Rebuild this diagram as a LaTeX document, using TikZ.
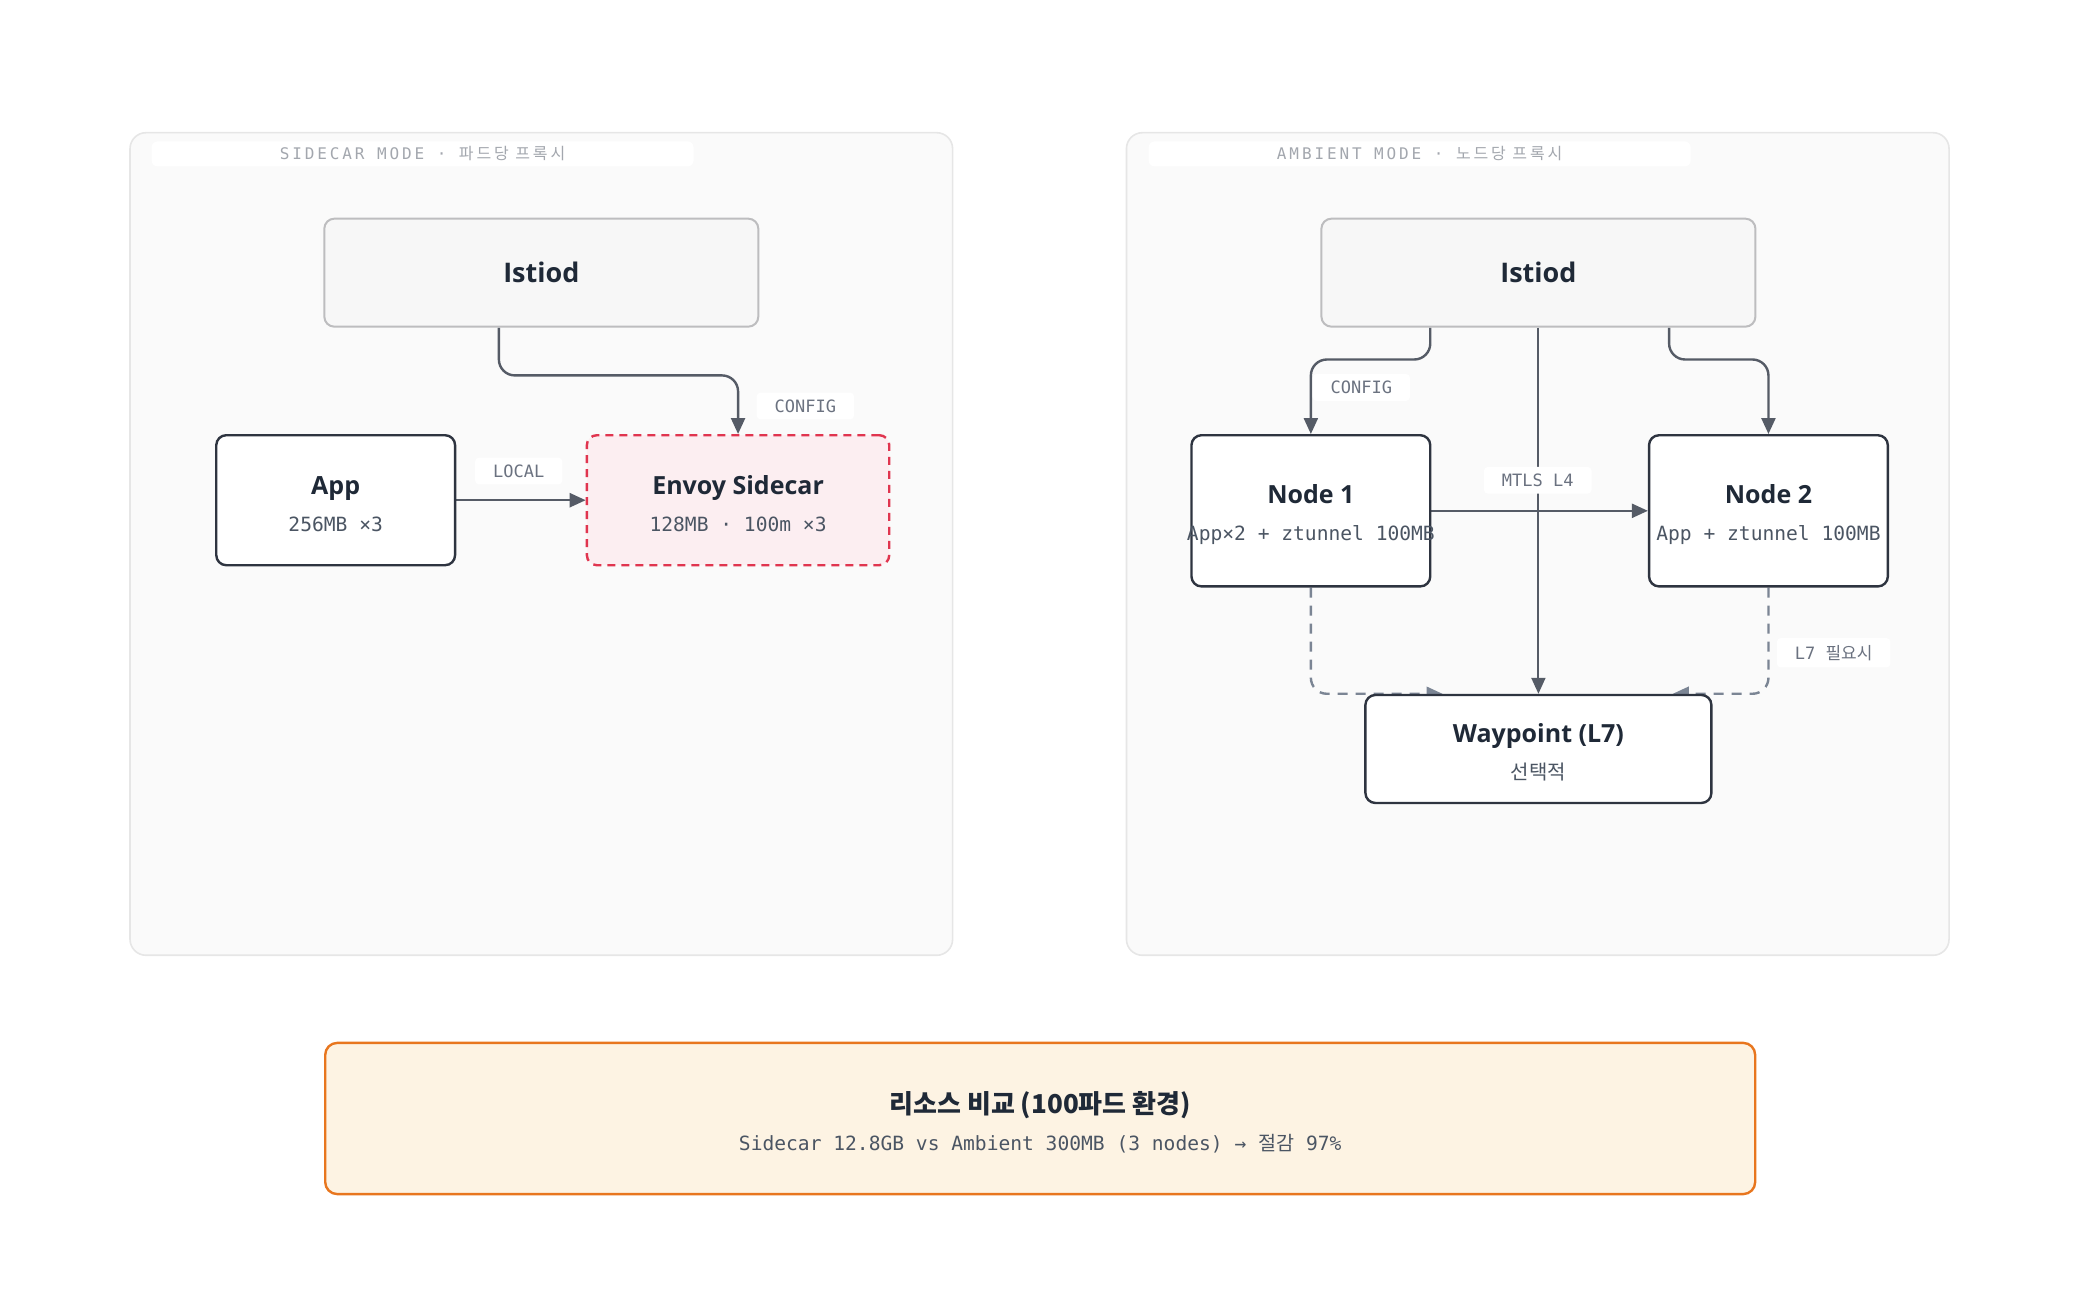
\documentclass[tikz,border=0pt]{standalone}
\usepackage{fontspec}
\setmainfont{Open Sans}
\newfontfamily\kr{Noto Sans CJK KR}
\newfontfamily\mono{DejaVu Sans Mono}
\newfontfamily\trackmono[LetterSpace=18]{DejaVu Sans Mono}
\newfontfamily\trackkr[LetterSpace=18]{Noto Sans CJK KR}
\usetikzlibrary{arrows.meta, calc, positioning}

\definecolor{ink}{HTML}{1F2937}
\definecolor{subgray}{HTML}{4B5563}
\definecolor{edgegray}{HTML}{555B66}
\definecolor{dashgray}{HTML}{7B8594}
\definecolor{muted}{HTML}{6B7280}
\definecolor{faint}{HTML}{A3A7AE}
\definecolor{panelbg}{HTML}{FAFAFA}
\definecolor{panelline}{HTML}{E6E6E6}
\definecolor{istiodbg}{HTML}{F7F7F7}
\definecolor{istiodline}{HTML}{BDBDBF}
\definecolor{boxline}{HTML}{2E3440}
\definecolor{envoybg}{HTML}{FCEEF1}
\definecolor{envoyline}{HTML}{E0354F}
\definecolor{sumbg}{HTML}{FDF3E3}
\definecolor{sumline}{HTML}{E8761E}

\pgfdeclarelayer{bg}
\pgfdeclarelayer{edges}
\pgfsetlayers{bg,edges,main}

\newcommand\boxtitle[1]{{\fontsize{12.5}{15}\selectfont\bfseries\rule{0pt}{13pt}#1}}
\newcommand\boxsub[1]{{\mono\fontsize{9.8}{12}\selectfont\color{subgray}\makebox[0pt][c]{#1}}}

\begin{document}
\begin{tikzpicture}[x=0.6634pt, y=-0.6634pt,
	panel/.style={draw=panelline, fill=panelbg, line width=0.8pt, rounded corners=8pt},
	paneltitle/.style={fill=white, rounded corners=3pt, minimum width=271pt, minimum height=12.5pt, inner sep=0pt, text=faint},
	ctrl/.style={draw=istiodline, fill=istiodbg, line width=1pt, rounded corners=5pt, minimum width=217pt, minimum height=54pt, text=ink, font=\fontsize{13.5}{16}\selectfont\bfseries},
	box/.style={draw=boxline, fill=white, line width=1.2pt, rounded corners=5pt, text=ink, align=center, inner sep=0pt, font=\fontsize{10}{18.5}\selectfont},
	proxy/.style={box, draw=envoyline, fill=envoybg, dash pattern=on 4pt off 3pt},
	tag/.style={fill=white, rounded corners=2pt, inner xsep=9pt, inner ysep=3.5pt, text=muted, font=\mono\fontsize{8.5}{10}\selectfont},
	conn/.style={draw=edgegray, line width=1.2pt, rounded corners=8pt, -{Triangle[length=8pt,width=7pt]}},
	opt/.style={conn, draw=dashgray, dash pattern=on 5pt off 4pt},
]
\useasboundingbox (0,0) rectangle (1567.7,981.3);

% panels
\begin{pgfonlayer}{bg}
	\draw[panel] (98,100) rectangle (718,720);
	\draw[panel] (849,100) rectangle (1469,720);
\end{pgfonlayer}
\node[paneltitle] (titleL) at (318.5,116) {\trackmono\fontsize{8}{9}\selectfont SIDECAR MODE · {\trackkr 파드당 프록시}};
\node[paneltitle] (titleR) at (1070,116) {\trackmono\fontsize{8}{9}\selectfont AMBIENT MODE · {\trackkr 노드당 프록시}};

% sidecar mode
\node[ctrl] (istiodL) at (408,205.5) {Istiod};
\node[box, minimum width=119.4pt, minimum height=65pt] (app) at (253,377) {\boxtitle{App}\\\boxsub{256MB ×3}};
\node[proxy, minimum width=151.2pt, minimum height=65pt, right=64.7pt of app] (envoy) {\boxtitle{Envoy Sidecar}\\\boxsub{128MB · 100m ×3}};

% ambient mode
\node[ctrl] (istiodR) at (1159.5,205.5) {Istiod};
\node[box, minimum width=119.4pt, minimum height=75.6pt] (node1) at (988,385) {\boxtitle{Node 1}\\\boxsub{App×2 + ztunnel 100MB}};
\node[box, minimum width=119.4pt, minimum height=75.6pt, right=108.2pt of node1] (node2) {\boxtitle{Node 2}\\\boxsub{App + ztunnel 100MB}};
\node[box, minimum width=173pt, minimum height=54pt] (waypoint) at (1159.5,564.5) {\boxtitle{Waypoint (L7)}\\{\kr\fontsize{10}{12}\selectfont\color{subgray}선택적}};

% summary
\node[draw=sumline, fill=sumbg, line width=1.2pt, rounded corners=6pt, minimum width=715pt, minimum height=75.6pt, align=center, text=ink, font=\fontsize{10}{18.5}\selectfont] (summary) at (784,843)
	{{\kr\bfseries\fontsize{13}{15}\selectfont\rule{0pt}{15pt}리소스 비교 (100파드 환경)}\\
	{\mono\fontsize{9.8}{12}\selectfont\color{subgray}Sidecar 12.8GB vs Ambient 300MB (3 nodes) → {\kr 절감} 97\%}};

% connectors
\begin{pgfonlayer}{edges}
	\draw[conn] ($(istiodL.south)+(-32,0)$) -- ++(0,36) -| (envoy.north);
	\draw[conn] (app.east) -- (envoy.west);
	\draw[conn] ($(istiodR.south)+(-81.5,0)$) -- ++(0,24) -| (node1.north);
	\draw[conn] ($(istiodR.south)+(98.5,0)$) -- ++(0,24) -| (node2.north);
	\draw[conn, line width=1pt] (istiodR.south) -- (waypoint.north);
	\draw[conn] (node1.east) -- (node2.west);
	\draw[opt] (node1.south) |- ($(waypoint.north west)+(59,0)$);
	\draw[opt] (node2.south) |- ($(waypoint.north east)+(-30,0)$);
\end{pgfonlayer}

% labels
\node[tag] (cfgL) at (607,306) {CONFIG};
\node[tag] (localL) at (391,355) {LOCAL};
\node[tag] (cfgR) at (1026,292) {CONFIG};
\node[tag] (mtls) at (1159,362) {MTLS L4};
\node[tag] (l7) at (1382,492) {L7 {\kr 필요시}};
\end{tikzpicture}
\end{document}
